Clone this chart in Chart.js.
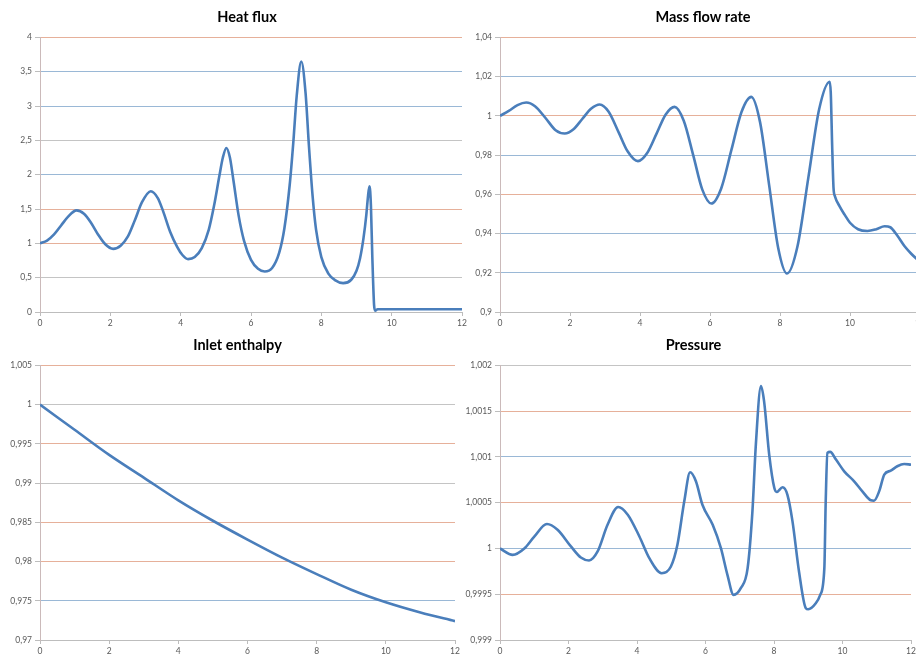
<!DOCTYPE html>
<html>
<head>
<meta charset="utf-8">
<script src="https://cdn.jsdelivr.net/npm/chart.js@4/dist/chart.umd.min.js"></script>
<style>
  html, body { margin: 0; padding: 0; background: #fff; }
  #board { position: relative; width: 916px; height: 657px; overflow: hidden; background: #fff; }
  #board canvas { position: absolute; }
</style>
</head>
<body>
<div id="board">
  <canvas id="heat" width="470" height="330" style="left:0px;top:0px"></canvas>
  <canvas id="mass" width="470" height="330" style="left:460px;top:0px"></canvas>
  <canvas id="enth" width="465" height="329" style="left:0px;top:328px"></canvas>
  <canvas id="pres" width="465" height="329" style="left:460px;top:328px"></canvas>
</div>
<script>
// Shared time axis labels (all four panels)
const timeTickLabels = ["0", "2", "4", "6", "8", "10", "12"];

// Heat flux
const heatTime = [0, 0.2, 0.4, 0.6, 0.8, 1.04, 1.25, 1.45, 1.65, 1.85, 2.08,
  2.3, 2.5, 2.7, 2.9, 3.15, 3.35, 3.5, 3.7, 3.9, 4.05, 4.21,
  4.4, 4.6, 4.8, 4.95, 5.1, 5.2, 5.3, 5.4, 5.5, 5.65, 5.8, 6.0, 6.2, 6.39,
  6.6, 6.8, 6.95, 7.1, 7.2, 7.3, 7.43, 7.55, 7.65, 7.75, 7.85, 8.0, 8.2, 8.4, 8.62,
  8.85, 9.0, 9.1, 9.2, 9.28, 9.33, 9.37, 9.41, 9.45, 9.5, 9.53, 9.6, 12];
const heatFlux = [1.0, 1.04, 1.13, 1.26, 1.39, 1.48, 1.43, 1.3, 1.13, 0.99, 0.92,
  0.97, 1.1, 1.34, 1.6, 1.76, 1.66, 1.47, 1.17, 0.95, 0.83, 0.77,
  0.8, 0.93, 1.2, 1.55, 1.98, 2.25, 2.39, 2.25, 1.92, 1.4, 1.04, 0.76, 0.63, 0.59,
  0.64, 0.86, 1.22, 1.85, 2.45, 3.15, 3.65, 3.2, 2.4, 1.7, 1.2, 0.8, 0.56, 0.46, 0.42,
  0.47, 0.6, 0.78, 1.08, 1.42, 1.7, 1.83, 1.55, 0.8, 0.1, 0.02, 0.04, 0.04];
const heatTickLabels = ["0", "0,5", "1", "1,5", "2", "2,5", "3", "3,5", "4"];

// Mass flow rate
const massTime = [0, 0.25, 0.5, 0.75, 1.0, 1.3, 1.6, 1.85,
  2.1, 2.35, 2.6, 2.85, 3.1, 3.4, 3.65, 3.94,
  4.2, 4.47, 4.73, 4.99, 5.25, 5.52, 5.78, 6.04,
  6.32, 6.61, 6.9, 7.18, 7.43, 7.69, 7.95, 8.2,
  8.5, 8.81, 9.12, 9.42, 9.45, 9.49, 9.53, 9.57, 9.7, 9.85, 10.0, 10.23,
  10.5, 10.75, 10.99, 11.15, 11.35, 11.56, 11.75, 12];
const massFlow = [1.0, 1.0025, 1.0055, 1.0068, 1.0049, 0.9989, 0.9925, 0.991,
  0.9932, 0.9984, 1.0036, 1.0058, 1.0022, 0.9912, 0.9818, 0.9769,
  0.9809, 0.9908, 1.0006, 1.0046, 0.9975, 0.98, 0.9624, 0.9553,
  0.963, 0.9825, 1.002, 1.0097, 0.9968, 0.9647, 0.9325, 0.9196,
  0.9335, 0.9685, 1.0035, 1.0174, 1.012, 0.985, 0.963, 0.959, 0.954, 0.9495, 0.9455, 0.9422,
  0.9413, 0.9422, 0.9437, 0.9432, 0.939, 0.9335, 0.9297, 0.9255];
const massTickLabels = ["0,9", "0,92", "0,94", "0,96", "0,98", "1", "1,02", "1,04"];

// Inlet enthalpy
const enthTime = [0, 1, 2, 3, 4, 5, 6, 7, 8, 9, 10, 11, 12];
const inletEnthalpy = [1.0, 0.9968, 0.9936, 0.9907, 0.9878, 0.9852, 0.9828, 0.9805, 0.9784, 0.9764, 0.9748, 0.9735, 0.9724];
const enthTickLabels = ["0,97", "0,975", "0,98", "0,985", "0,99", "0,995", "1", "1,005"];

// Pressure
const presTime = [0, 0.37, 0.71, 1.0, 1.37, 1.68, 2.07, 2.36, 2.6, 2.85, 3.14, 3.45, 3.73, 4.07, 4.36, 4.72,
  4.99, 5.18, 5.38, 5.55, 5.72, 5.91, 6.21, 6.45, 6.64, 6.82, 7.03, 7.23, 7.37, 7.47, 7.62, 7.71,
  7.86, 8.01, 8.08, 8.25, 8.39, 8.54, 8.73, 8.93, 9.0, 9.22, 9.35, 9.47, 9.51, 9.56, 9.64, 9.81,
  10.05, 10.34, 10.58, 10.83, 10.92, 11.07, 11.22, 11.41, 11.6, 11.8, 12];
const pressure = [1.0, 0.99993, 1.0, 1.00013, 1.000267, 1.000204, 1.000022, 0.999901, 0.999869, 0.999967, 1.000259, 1.000453, 1.000369, 1.000131, 0.999894, 0.99973,
  0.999803, 1.00004, 1.000515, 1.000832, 1.000734, 1.000478, 1.000259, 1.000004, 0.999712, 0.999493, 0.999566, 0.999785, 1.000405, 1.001135, 1.001774, 1.00161,
  1.001026, 1.00066, 1.000617, 1.000668, 1.000588, 1.000296, 0.999748, 0.999347, 0.999336, 0.999401, 0.999493, 0.999785, 1.000515, 1.001044, 1.001055, 1.000971,
  1.000843, 1.000734, 1.000624, 1.000526, 1.000522, 1.000624, 1.000807, 1.00085, 1.000898, 1.000923, 1.000916];
const presTickLabels = ["0,999", "0,9995", "1", "1,0005", "1,001", "1,0015", "1,002"];

// Look of the sheet
const LINE_COLOR = '#4a7ebb';
const GRID_GRAY = '#c4c4c4';
const GRID_BLUE = '#9ab8d6';
const GRID_ORANGE = '#e6b09a';
const AXIS_COLOR = '#bdbdbd';
const TICK_FONT = { family: 'Lato', size: 8.5 };
const TICK_COLOR = '#595959';

const toNumber = s => parseFloat(s.replace(',', '.'));

// Moves the title block sideways so it sits centred over the whole chart object
const titleShift = {
  id: 'titleShift',
  afterLayout(chart, args, opts) {
    const t = chart.titleBlock;
    if (t && opts.dx) { t.left += opts.dx; t.right += opts.dx; }
  }
};

function drawPanel(canvasId, title, xs, ys, yTickLabels, gridColors, box) {
  const yTicks = yTickLabels.map(toNumber);
  const xTicks = timeTickLabels.map(toNumber);
  const points = xs.map((x, i) => ({ x: x, y: ys[i] }));
  return new Chart(document.getElementById(canvasId), {
    type: 'line',
    data: {
      datasets: [{
        data: points,
        borderColor: LINE_COLOR,
        borderWidth: 2.6,
        pointRadius: 0,
        fill: false,
        cubicInterpolationMode: 'monotone'
      }]
    },
    plugins: [titleShift],
    options: {
      responsive: false,
      animation: false,
      devicePixelRatio: 1,
      layout: { padding: { top: 0, right: box.padRight, bottom: 0, left: 0 } },
      plugins: {
        legend: { display: false },
        tooltip: { enabled: false },
        titleShift: { dx: box.titleDx },
        title: {
          display: true,
          text: title,
          color: '#000',
          font: { family: 'Lato', size: 14.5, weight: 'bold' },
          padding: { top: 9, bottom: 11 }
        }
      },
      scales: {
        x: {
          type: 'linear',
          min: xTicks[0],
          max: xTicks[xTicks.length - 1],
          afterBuildTicks: s => { s.ticks = xTicks.map(v => ({ value: v })); },
          afterFit: s => { s.height = box.xAxisHeight; },
          ticks: {
            callback: (v, i) => timeTickLabels[i],
            font: TICK_FONT,
            color: TICK_COLOR,
            padding: 2,
            maxRotation: 0,
            autoSkip: false
          },
          grid: { drawOnChartArea: false, drawTicks: true, tickLength: 4, tickColor: AXIS_COLOR },
          border: { color: AXIS_COLOR, width: 1 }
        },
        y: {
          type: 'linear',
          min: yTicks[0],
          max: yTicks[yTicks.length - 1],
          afterBuildTicks: s => { s.ticks = yTicks.map(v => ({ value: v })); },
          afterFit: s => { s.width = 40; },
          ticks: {
            callback: (v, i) => yTickLabels[i],
            font: TICK_FONT,
            color: TICK_COLOR,
            padding: 3,
            autoSkip: false
          },
          grid: {
            color: ctx => gridColors[ctx.index] || GRID_GRAY,
            lineWidth: 1,
            drawTicks: true,
            tickLength: 5,
            tickColor: AXIS_COLOR
          },
          border: { color: '#cbbaba', width: 1 }
        }
      }
    }
  });
}

const G = GRID_GRAY, B = GRID_BLUE, O = GRID_ORANGE;

drawPanel('heat', 'Heat flux', heatTime, heatFlux, heatTickLabels,
  [G, G, O, O, B, G, B, B, O], { padRight: 8, xAxisHeight: 18, titleDx: 16 });
drawPanel('mass', 'Mass flow rate', massTime, massFlow, massTickLabels,
  [G, B, B, O, B, O, B, O], { padRight: 10, xAxisHeight: 18, titleDx: 13 });
drawPanel('enth', 'Inlet enthalpy', enthTime, inletEnthalpy, enthTickLabels,
  [G, B, O, O, G, O, G, O], { padRight: 10, xAxisHeight: 17, titleDx: 10 });
drawPanel('pres', 'Pressure', presTime, pressure, presTickLabels,
  [G, O, B, O, B, O, G], { padRight: 14, xAxisHeight: 17, titleDx: 8 });
</script>
</body>
</html>
